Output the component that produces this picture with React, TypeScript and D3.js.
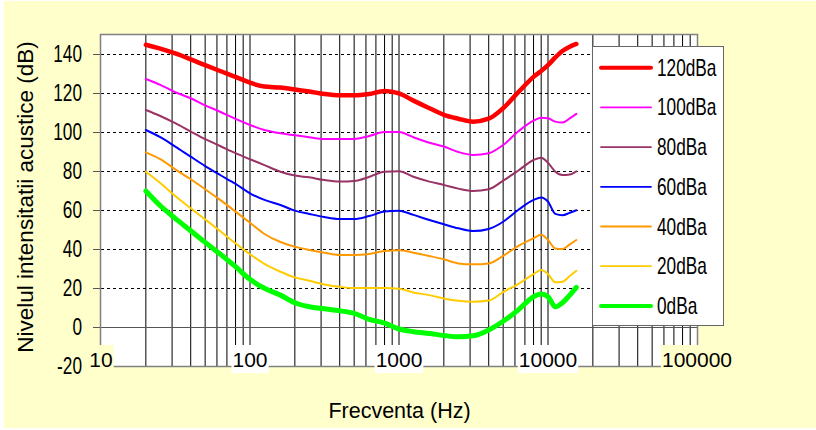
import React from "react";
import * as d3 from "d3";

// Third-octave frequencies (Hz) with a few extra points in the high range
const frequencies = [
  20, 25, 31.5, 40, 50, 63, 80, 100, 125, 160, 200, 250, 315, 400, 500, 630,
  800, 1000, 1250, 1600, 2000, 2500, 3150, 4000, 5000, 6300, 8000, 9000,
  10000, 11200, 12500, 14000, 15500,
];

// Sound pressure level (dB) of each loudness contour
const level120 = [
  145, 143, 140.5, 137.5, 134.5, 131.5, 128.5, 125.5, 123.5, 123, 122, 121,
  119.7, 119, 119, 119.7, 121.3, 120, 116.3, 112.4, 109, 107, 105.5, 107,
  112.4, 120.5, 128.5, 131.5, 134.5, 138.5, 141.8, 144, 145.4,
];
const level100 = [
  127.4, 124.4, 120.6, 117.5, 113.9, 110.6, 106.9, 103.8, 101.2, 99.5, 98.5,
  97.5, 96.6, 96.6, 96.6, 98.1, 100.2, 100.2, 97.5, 94.7, 92.7, 89.9, 88.4,
  89.3, 93.5, 100.4, 106, 107.5, 107.2, 105.5, 105, 107.2, 109.5,
];
const level80 = [
  111.5, 108.4, 104.7, 100.4, 96.5, 93, 89.3, 86.2, 83.2, 79.8, 77.8, 76.9,
  75.5, 74.7, 75, 77.1, 79.8, 80, 77.2, 74.7, 73, 71.1, 69.9, 70.8, 75.2,
  80.3, 85.8, 87, 84.4, 79.8, 78.1, 78.4, 80,
];
const level60 = [
  101.2, 97.5, 92.7, 87.5, 82.7, 78.1, 73.5, 68.7, 65.3, 62.7, 59.8, 58.1,
  56.5, 55.5, 55.5, 57, 59.3, 59.8, 57.6, 55, 52.8, 50.7, 49.3, 50.4, 54.1,
  60.1, 65.3, 66.6, 64.4, 58.1, 57.4, 58.7, 60,
];
const level40 = [
  89.7, 86.2, 81, 75.9, 70.8, 65.3, 59.3, 53.6, 47.8, 43.7, 41.3, 39.6, 38.2,
  37, 37, 37.5, 39.1, 39.4, 38.2, 36.5, 34.8, 32.7, 32.2, 32.7, 36.6, 41.6,
  45.6, 47.4, 44.7, 40.4, 40.1, 42.5, 44.7,
];
const level20 = [
  79.8, 74, 67.3, 61, 55.3, 49.3, 43, 37.4, 32.4, 28.4, 25.5, 23.8, 21.9,
  20.7, 20, 20, 20, 19.7, 17.8, 16.4, 14.7, 13.5, 13, 13.6, 18, 22.1, 27.2,
  29.3, 27.2, 23, 23.3, 26.2, 28.9,
];
const level0 = [
  69.9, 62.3, 55.8, 49.5, 43.5, 37.5, 31, 24.5, 19.9, 16.4, 12.5, 10.4, 9.4,
  8.4, 7, 4, 2, -1, -2.4, -3.3, -4.3, -5, -4.5, -1.5, 3, 8.7, 15.6, 17, 15.6,
  10.4, 12.5, 16.4, 20.4,
];

const seriesLabels = ["120dBa", "100dBa", "80dBa", "60dBa", "40dBa", "20dBa", "0dBa"];
const seriesValues = [level120, level100, level80, level60, level40, level20, level0];
const seriesColors = ["#FF0000", "#FF00FF", "#993366", "#0000FF", "#FF9900", "#FFCC00", "#00FF00"];
const seriesWidths = [4.5, 2, 2, 2, 2, 2, 5];
const legendWidths = [4, 1.8, 1.8, 1.8, 1.8, 1.8, 4];

const yTicks = [-20, 0, 20, 40, 60, 80, 100, 120, 140];
const xTickLabels = [10, 100, 1000, 10000, 100000];

const xTitle = "Frecventa (Hz)";
const yTitle = "Nivelul intensitatii acustice (dB)";

const W = 816;
const H = 430;
const plot = { left: 101, right: 697, top: 35, bottom: 366 };
const BG = "#FFFFCC";
const FONT = "'Liberation Sans', Arial, sans-serif";

export default function App() {
  const x = d3.scaleLog().domain([10, 100000]).range([plot.left, plot.right]);
  const y = d3.scaleLinear().domain([-20, 150]).range([plot.bottom, plot.top]);

  // minor grid: 2..9 in each decade plus inner decade lines
  const vGrid: number[] = [];
  for (let d = 10; d < 100000; d *= 10) {
    for (let k = 1; k <= 9; k++) {
      const f = d * k;
      if (f > 10 && f < 100000) vGrid.push(f);
    }
  }

  const line = d3
    .line<number>()
    .x((_, i) => x(frequencies[i]))
    .y((v) => y(v))
    .curve(d3.curveMonotoneX);

  const labelBoxTop = 345;
  const labelBoxBottom = 373;
  const digitW = 11.7;

  const legend = { x: 592.5, y: 46.5, w: 131, h: 279 };
  const legendRow0 = 67.7;
  const legendStep = 39.7;

  return (
    <svg
      width={W}
      height={H}
      style={{ position: "absolute", left: 0, top: 0, display: "block" }}
      fontFamily={FONT}
    >
      <rect x={0} y={0} width={W} height={H} fill="#ffffff" />
      <rect x={4} y={1} width={W - 4} height={H - 3} fill={BG} />

      {/* plot area */}
      <rect
        x={plot.left}
        y={plot.top}
        width={plot.right - plot.left}
        height={plot.bottom - plot.top}
        fill="#ffffff"
      />

      {/* vertical grid lines */}
      {vGrid.map((f) => (
        <line
          key={"v" + f}
          x1={x(f)}
          x2={x(f)}
          y1={plot.top}
          y2={plot.bottom}
          stroke="#000"
          strokeWidth={1}
        />
      ))}

      {/* horizontal grid lines */}
      {yTicks
        .filter((t) => t > 0)
        .map((t) => (
          <line
            key={"h" + t}
            x1={plot.left}
            x2={plot.right}
            y1={Math.round(y(t)) + 0.5}
            y2={Math.round(y(t)) + 0.5}
            stroke="#000"
            strokeWidth={1}
            strokeDasharray="3,3"
          />
        ))}
      <line
        x1={plot.left}
        x2={plot.right}
        y1={Math.round(y(0)) + 0.5}
        y2={Math.round(y(0)) + 0.5}
        stroke="#555"
        strokeWidth={1.2}
      />

      {/* y tick marks */}
      {yTicks.map((t) => (
        <line
          key={"yt" + t}
          x1={plot.left - 8}
          x2={plot.left}
          y1={Math.round(y(t)) + 0.5}
          y2={Math.round(y(t)) + 0.5}
          stroke="#555"
          strokeWidth={1}
        />
      ))}

      {/* plot border */}
      <rect
        x={plot.left - 0.5}
        y={plot.top - 0.5}
        width={plot.right - plot.left + 1}
        height={plot.bottom - plot.top + 1}
        fill="none"
        stroke="#808080"
        strokeWidth={1.5}
      />

      {/* loudness contours */}
      {seriesValues.map((vals, i) => (
        <path
          key={seriesLabels[i]}
          d={line(vals) || ""}
          fill="none"
          stroke={seriesColors[i]}
          strokeWidth={seriesWidths[i]}
          strokeLinejoin="round"
          strokeLinecap="round"
        />
      ))}

      {/* x tick labels with their boxes */}
      {xTickLabels.map((v, i) => {
        const txt = String(v);
        const bw = txt.length * digitW + 2;
        const edge = i === 0 || i === xTickLabels.length - 1;
        return (
          <g key={"xl" + v}>
            <rect
              x={x(v) - bw / 2}
              y={labelBoxTop}
              width={bw}
              height={labelBoxBottom - labelBoxTop}
              fill={edge ? BG : "#ffffff"}
            />
            <text
              x={x(v)}
              y={367}
              textAnchor="middle"
              fontSize={21}
              fill="#000"
            >
              {txt}
            </text>
          </g>
        );
      })}

      {/* y tick labels */}
      {yTicks.map((t) => (
        <text
          key={"yl" + t}
          transform={`translate(82, ${y(t) + 8}) scale(0.75, 1)`}
          textAnchor="end"
          fontSize={23}
          fill="#000"
        >
          {t}
        </text>
      ))}

      {/* legend */}
      <rect
        x={legend.x}
        y={legend.y}
        width={legend.w}
        height={legend.h}
        fill="#ffffff"
        stroke="#666"
        strokeWidth={1}
      />
      {seriesLabels.map((lab, i) => {
        const cy = legendRow0 + i * legendStep;
        return (
          <g key={"lg" + lab}>
            <line
              x1={601}
              x2={651}
              y1={cy}
              y2={cy}
              stroke={seriesColors[i]}
              strokeWidth={legendWidths[i]}
              strokeLinecap="round"
            />
            <text
              transform={`translate(657, ${cy + 8}) scale(0.75, 1)`}
              fontSize={23}
              fill="#000"
            >
              {lab}
            </text>
          </g>
        );
      })}

      {/* axis titles */}
      <text x={399.5} y={418} textAnchor="middle" fontSize={21.5} fill="#000">
        {xTitle}
      </text>
      <text
        transform="translate(33, 197) rotate(-90)"
        textAnchor="middle"
        fontSize={22.5}
        fill="#000"
      >
        {yTitle}
      </text>
    </svg>
  );
}
